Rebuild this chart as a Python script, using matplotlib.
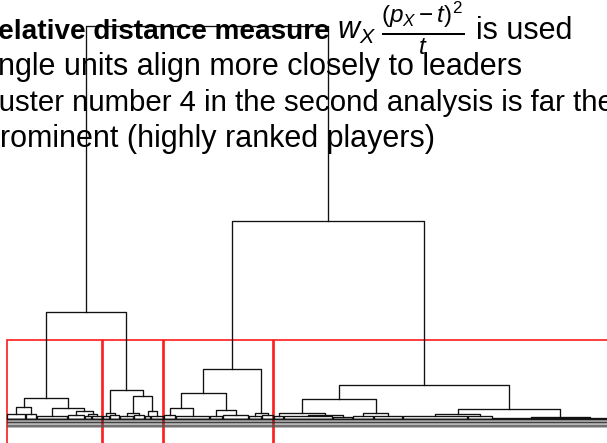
import numpy as np
import matplotlib
matplotlib.use("Agg")
import matplotlib.pyplot as plt
from matplotlib.patches import Rectangle

plt.rcParams["font.family"] = "Liberation Sans"
plt.rcParams["mathtext.fontset"] = "custom"
plt.rcParams["mathtext.rm"] = "Liberation Sans"
plt.rcParams["mathtext.it"] = "Liberation Sans:italic"
plt.rcParams["mathtext.bf"] = "Liberation Sans:bold"

# leaf groups from left to right: number of units and the height they join at
group_sizes = [19, 11, 31, 17, 7, 11,
               7, 10, 14, 11, 6, 13,
               12, 34, 13, 26, 13, 12,
               10, 49, 20, 21, 29, 65, 25, 77, 40]
group_heights = [0.041, 0.041, 0.020, 0.031, 0.020, 0.020,
                 0.020, 0.031, 0.020, 0.031, 0.020, 0.020,
                 0.031, 0.020, 0.020, 0.031, 0.020, 0.031,
                 0.020, 0.020, 0.010, 0.020, 0.020, 0.020, 0.020, 0.005, 0.005]

# agglomeration steps; ids from len(group_sizes) on refer to earlier steps
merge_left = [0, 4, 3, 2, 27, 6, 8, 10, 33, 32, 12, 14, 37, 16, 39,
              19, 18, 21, 43, 23, 25, 46, 45, 31, 41, 50]
merge_right = [1, 5, 28, 29, 30, 7, 9, 11, 34, 35, 13, 15, 38, 17, 40,
               20, 42, 22, 44, 24, 26, 47, 48, 36, 49, 51]
merge_height = [0.112, 0.041, 0.071, 0.102, 0.204,
                0.051, 0.051, 0.071, 0.224, 0.286,
                0.102, 0.082, 0.255, 0.051, 0.500,
                0.031, 0.051, 0.051, 0.194, 0.041, 0.010, 0.092, 0.337,
                1.082, 2.010, 4.000]
n_clusters = 4

# slide text: (x in px, baseline in px, text, size, weight)
text_pieces = [
    (-22, 39, "Relative distance measure", 20.1, "bold"),
    (337, 39, r"$w_X$", 22, "normal"),
    (381, 44, r"$\frac{(p_X-t)^2}{t}$", 25, "normal"),
    (476, 39, "is used", 22, "normal"),
    (-29, 75, "Single units align more closely to leaders", 22, "normal"),
    (-29, 111, "Cluster number 4 in the second analysis is far the", 21.2, "normal"),
    (-17, 147, "prominent (highly ranked players)", 22, "normal"),
]

# leaf positions and node coordinates, dendrogram style
n_groups = len(group_sizes)
first_leaf = np.concatenate([[1], 1 + np.cumsum(group_sizes)[:-1]])
last_leaf = first_leaf + np.array(group_sizes) - 1
n_leaves = int(last_leaf[-1])

node_x = list((first_leaf + last_leaf) / 2)
node_h = list(group_heights)
node_span = [(f, l) for f, l in zip(first_leaf, last_leaf)]
children = {}
for a, b, h in zip(merge_left, merge_right, merge_height):
    children[len(node_x)] = (a, b)
    node_x.append((node_x[a] + node_x[b]) / 2)
    node_h.append(h)
    node_span.append((node_span[a][0], node_span[b][1]))

W, H = 607, 443
fig = plt.figure(figsize=(W / 100, H / 100), dpi=100)
ax = fig.add_axes([0, 0, 1, 1])
ax.set_xlim(-6, W - 6)
ax.set_ylim(-25 / 98, 418 / 98)
ax.axis("off")

lc = "#111111"
lw = 0.95
for i in range(n_groups):
    f, l = node_span[i]
    h = node_h[i]
    ax.plot([f, f, l, l], [0, h, h, 0], color=lc, lw=lw)

for a, b, h in zip(merge_left, merge_right, merge_height):
    ax.plot([node_x[a], node_x[a], node_x[b], node_x[b]],
            [node_h[a], h, h, node_h[b]], color=lc, lw=lw)

# leaf labels, printed so small they merge into a band under the tree
leaves = np.arange(1, n_leaves + 1)
ax.vlines(leaves, -0.024, 0.002, color="#111111", lw=0.7)
ax.vlines(leaves, -0.050, -0.031, color="#2e2e2e", lw=0.65)
ax.vlines(leaves, -0.090, -0.058, color="#555555", lw=0.6)

# cut the tree into n_clusters groups
tops = sorted(merge_height, reverse=True)
cut_h = (tops[n_clusters - 2] + tops[n_clusters - 1]) / 2
clusters = [len(node_x) - 1]
while len(clusters) < n_clusters:
    top = max(clusters, key=lambda n: node_h[n])
    clusters.remove(top)
    clusters.extend(children[top])
for c in clusters:
    f, l = node_span[c]
    ax.add_patch(Rectangle((f - 0.34, -1), (l + 0.33) - (f - 0.34), cut_h + 1,
                           fill=False, edgecolor="#ff1a1a", lw=1.2))

for x, y, s, size, weight in text_pieces:
    fig.text(x / W, 1 - y / H, s, fontsize=size, fontweight=weight,
             va="baseline", ha="left")

fig.savefig("out.png", dpi=100)
